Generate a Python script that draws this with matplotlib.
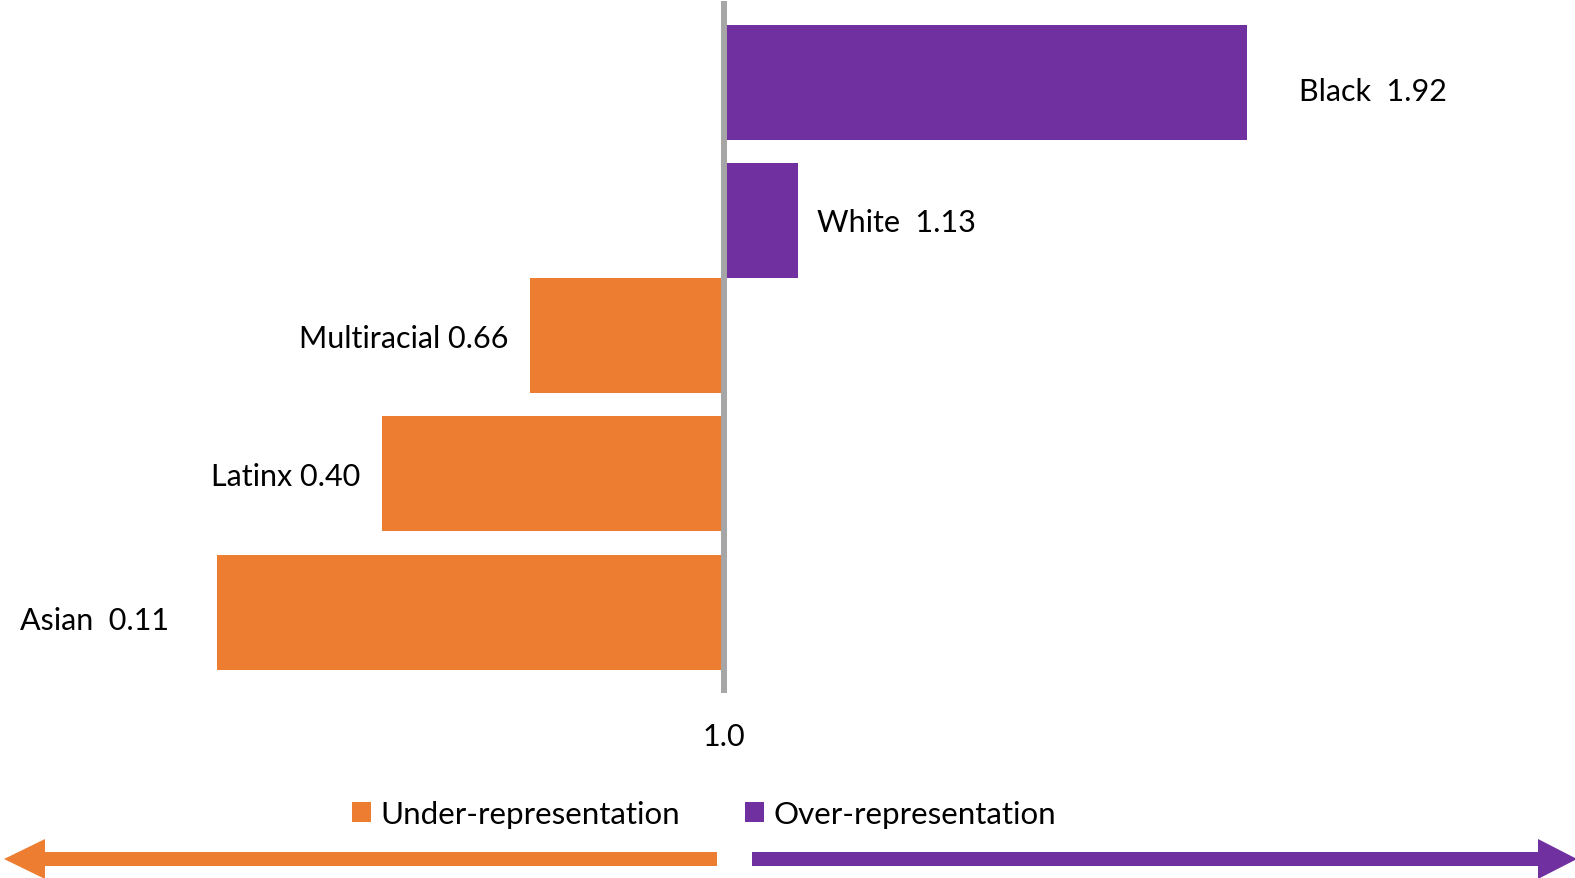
import matplotlib
matplotlib.use('Agg')
import matplotlib.pyplot as plt
from matplotlib.patches import Patch, FancyArrow

# representation index by group (1.0 = parity)
groups = ['Black', 'White', 'Multiracial', 'Latinx', 'Asian']
index_values = [1.92, 1.13, 0.66, 0.40, 0.11]
label_gaps = ['  ', '  ', ' ', ' ', '  ']
legend_labels = ['Under-representation', 'Over-representation']
baseline = 1.0

ORANGE = '#ED7D31'
PURPLE = '#7030A0'
GREY = '#A6A6A6'
FONT = 'Lato'
FS = 22
LEG_FS = 22.5

W, H, DPI = 1575, 879, 100
fig = plt.figure(figsize=(W / DPI, H / DPI), dpi=DPI, facecolor='white')

# main axes fill the whole figure; 569 px per index unit, 138 px per row
px_unit = 569.0
x0_px = 723.7
pitch = 138.0
row0_px = 83.8
ax = fig.add_axes([0, 0, 1, 1])
ax.set_xlim(baseline - x0_px / px_unit, baseline + (W - x0_px) / px_unit)
ax.set_ylim((H - row0_px) / pitch, -row0_px / pitch)
ax.axis('off')

# row positions (multiracial row sits tight under white)
rows = [0, 0.996, 1.833, 2.833, 3.835]
bar_h = 0.833

colors = [PURPLE if v >= baseline else ORANGE for v in index_values]
ax.barh(rows, [v - baseline for v in index_values], left=baseline,
        height=bar_h, color=colors, zorder=2)

# parity line
ax.vlines(baseline, -0.59, 4.42, color=GREY, linewidth=4.3, zorder=3)

# data labels: (dx, dy) offsets in points from bar end
offsets = [(37, -6), (14, -1), (-16, -1.5), (-16, -1.5), (-35, -6)]
for r, g, v, sep, (dx, dy) in zip(rows, groups, index_values, label_gaps, offsets):
    ha = 'left' if v >= baseline else 'right'
    ax.annotate(f'{g}{sep}{v:.2f}', xy=(v, r), xytext=(dx, dy),
                textcoords='offset points', ha=ha, va='center',
                fontsize=FS, family=FONT, color='black')

ax.text(baseline, (737 - row0_px) / pitch, f'{baseline:.1f}', ha='center',
        va='center', fontsize=FS, family=FONT, color='black')

# legend
handles = [Patch(facecolor=ORANGE, edgecolor='none'),
           Patch(facecolor=PURPLE, edgecolor='none')]
leg = fig.legend(handles, legend_labels, ncol=2, frameon=False,
                 loc='center', bbox_to_anchor=(704 / W, 1 - 815 / H),
                 prop={'family': FONT, 'size': LEG_FS},
                 handlelength=0.61, handleheight=0.64, handletextpad=0.29,
                 columnspacing=2.1, borderpad=0, borderaxespad=0)

# direction arrows in pixel space
ov = fig.add_axes([0, 0, 1, 1], zorder=-1)
ov.set_xlim(0, W)
ov.set_ylim(H, 0)
ov.axis('off')
ov.add_patch(FancyArrow(717, 860, -713, 0, width=14, head_width=40,
                        head_length=41, length_includes_head=True,
                        color=ORANGE, lw=0))
ov.add_patch(FancyArrow(752, 860, 825, 0, width=14, head_width=40,
                        head_length=39, length_includes_head=True,
                        color=PURPLE, lw=0))

fig.savefig('out.png', dpi=DPI, facecolor='white')
